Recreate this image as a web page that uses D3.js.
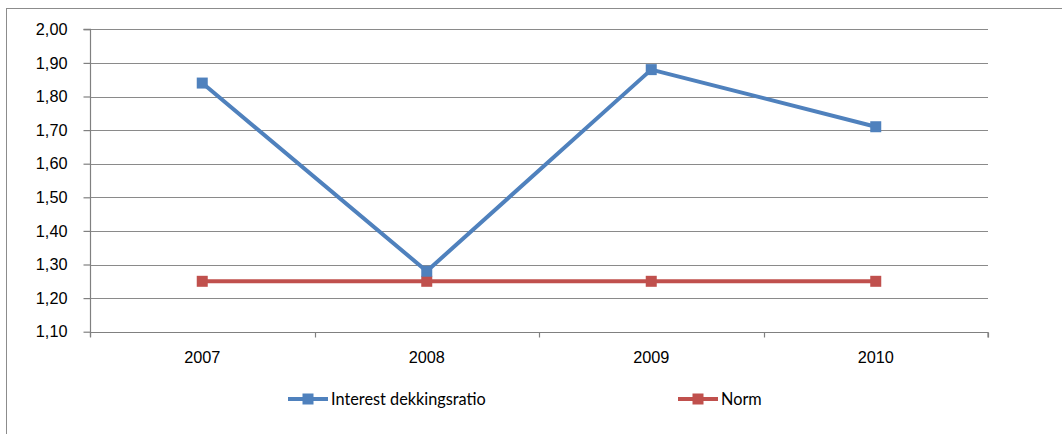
<!DOCTYPE html>
<html>
<head>
<meta charset="utf-8">
<script src="https://cdn.jsdelivr.net/npm/d3@7"></script>
<style>
  html, body { margin: 0; padding: 0; background: #fff; }
  svg { display: block; font-family: Lato, "Open Sans", "Liberation Sans", sans-serif; }
</style>
</head>
<body>
<svg id="chart" width="1062" height="434"></svg>
<script>
// Chart data
const years = ["2007", "2008", "2009", "2010"];
const interestRatio = [1.84, 1.28, 1.88, 1.71];
const norm = [1.25, 1.25, 1.25, 1.25];
const yTicks = [1.10, 1.20, 1.30, 1.40, 1.50, 1.60, 1.70, 1.80, 1.90, 2.00];
const seriesNames = ["Interest dekkingsratio", "Norm"];

const colors = ["#4F81BD", "#C0504D"];
const fontSize = "16.3px";
const svg = d3.select("#chart");

// Outer frame of the chart area
svg.append("rect")
  .attr("x", 6.5).attr("y", 8.5)
  .attr("width", 1070).attr("height", 440)
  .attr("fill", "none").attr("stroke", "#8c8c8c").attr("stroke-width", 1);

const plot = { left: 90, right: 988, top: 29.3, bottom: 331.7 };

const x = d3.scaleBand().domain(years).range([plot.left, plot.right]);
const y = d3.scaleLinear().domain([1.10, 2.00]).range([plot.bottom, plot.top]);

// Horizontal gridlines
svg.append("g")
  .selectAll("line")
  .data(yTicks)
  .join("line")
  .attr("x1", plot.left).attr("x2", plot.right)
  .attr("y1", d => Math.round(y(d)) + 0.5).attr("y2", d => Math.round(y(d)) + 0.5)
  .attr("stroke", "#8a8a8a").attr("stroke-width", 1.2);

// Y axis
const yAxis = d3.axisLeft(y)
  .tickValues(yTicks)
  .tickSize(7)
  .tickPadding(16)
  .tickFormat(d => d3.format(".2f")(d).replace(".", ","));
const gy = svg.append("g")
  .attr("transform", `translate(${plot.left + 0.5},0)`)
  .call(yAxis);
gy.select(".domain").attr("stroke", "#808080").attr("stroke-width", 1.2)
  .attr("d", `M-7,${plot.top}H0V${plot.bottom + 5}`);
gy.selectAll(".tick line").attr("stroke", "#808080").attr("stroke-width", 1.2);
gy.selectAll(".tick text").attr("fill", "#000").style("font-size", fontSize);

// X axis with tick marks on band boundaries
const xAxis = d3.axisBottom(x).tickSize(0).tickPadding(19);
const gx = svg.append("g")
  .attr("transform", `translate(0,${Math.round(plot.bottom) + 0.5})`)
  .call(xAxis);
gx.select(".domain").attr("stroke", "#808080").attr("stroke-width", 1.2)
  .attr("d", `M${plot.left},0H${plot.right}V5`);
gx.selectAll(".tick text").attr("fill", "#000").style("font-size", fontSize);
const bounds = years.map(d => x(d)).concat([plot.right]);
gx.selectAll("line.bound")
  .data(bounds)
  .join("line")
  .attr("class", "bound")
  .attr("x1", d => Math.round(d) + 0.5).attr("x2", d => Math.round(d) + 0.5)
  .attr("y1", 0).attr("y2", 5)
  .attr("stroke", "#808080").attr("stroke-width", 1.2);

// Series lines and markers
const series = [interestRatio, norm];
const cx = d => x(d) + x.bandwidth() / 2;
const line = d3.line().x((d, i) => cx(years[i])).y(d => y(d));
const msize = 11;

[1, 0].forEach(s => {
  const g = svg.append("g");
  g.append("path")
    .datum(series[s])
    .attr("d", line)
    .attr("fill", "none")
    .attr("stroke", colors[s])
    .attr("stroke-width", 4)
    .attr("stroke-linejoin", "round");
  g.selectAll("rect")
    .data(series[s])
    .join("rect")
    .attr("x", (d, i) => cx(years[i]) - msize / 2)
    .attr("y", d => y(d) - msize / 2)
    .attr("width", msize).attr("height", msize)
    .attr("fill", colors[s]);
});

// Legend
const legendX = [288, 678];
const legendY = 399;
seriesNames.forEach((name, s) => {
  const g = svg.append("g").attr("transform", `translate(${legendX[s]},${legendY})`);
  g.append("line").attr("x1", 0).attr("x2", 40).attr("y1", 0).attr("y2", 0)
    .attr("stroke", colors[s]).attr("stroke-width", 4);
  g.append("rect").attr("x", 20 - msize / 2).attr("y", -msize / 2)
    .attr("width", msize).attr("height", msize).attr("fill", colors[s]);
  g.append("text").attr("x", 43).attr("y", 6)
    .style("font-size", fontSize).attr("fill", "#000")
    .text(name);
});
</script>
</body>
</html>
